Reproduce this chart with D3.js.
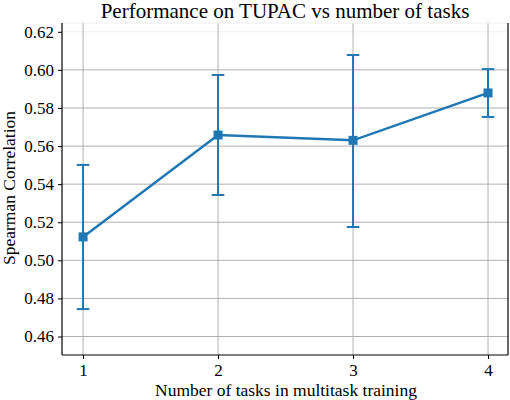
<!DOCTYPE html>
<html><head><meta charset="utf-8">
<script src="https://cdn.jsdelivr.net/npm/d3@7"></script>
<style>body{margin:0;background:#fff}svg{display:block}</style>
</head><body><svg id="c" width="510" height="400"></svg>
<script>
const tasks = [1, 2, 3, 4];
const means = [0.5123, 0.5658, 0.5630, 0.5879];
const lower = [0.4744, 0.5343, 0.5175, 0.5753];
const upper = [0.5501, 0.5973, 0.6078, 0.6004];
const yTicks = [0.46, 0.48, 0.50, 0.52, 0.54, 0.56, 0.58, 0.60, 0.62];
const xTicks = [1, 2, 3, 4];
const title = "Performance on TUPAC vs number of tasks";
const xLabel = "Number of tasks in multitask training";
const yLabel = "Spearman Correlation";

const FONT = "Liberation Serif";
const svg = d3.select("#c");
const L = 62, R = 508, T = 23, B = 355;
const x = d3.scaleLinear().domain([0.844, 4.148]).range([L, R]);
const y = d3.scaleLinear().domain([0.46, 0.62]).range([336.5, 31.8]);
const color = "#1f77b4";

// grid
svg.append("g").selectAll("line").data(yTicks).join("line")
  .attr("x1", L).attr("x2", R).attr("y1", d => y(d)).attr("y2", d => y(d))
  .attr("stroke", d => d === 0.62 ? "#f0f0f0" : "#b0b0b0").attr("stroke-width", 1);
svg.append("g").selectAll("line").data(xTicks).join("line")
  .attr("x1", d => x(d)).attr("x2", d => x(d)).attr("y1", T).attr("y2", B)
  .attr("stroke", "#b0b0b0").attr("stroke-width", 1);
svg.append("line").attr("x1", L).attr("x2", R).attr("y1", T).attr("y2", T).attr("stroke", "#eeeeee");

// axes
const yAxis = d3.axisLeft(y).tickValues(yTicks).tickFormat(d3.format(".2f")).tickSize(4).tickPadding(4);
const gy = svg.append("g").attr("transform", `translate(${L},0)`).call(yAxis);
const xAxis = d3.axisBottom(x).tickValues(xTicks).tickFormat(d3.format("d")).tickSize(4).tickPadding(5);
const gx = svg.append("g").attr("transform", `translate(0,${B})`).call(xAxis);
[gy, gx].forEach(g => {
  g.attr("font-family", FONT).attr("font-size", 17);
  g.select(".domain").remove();
  g.selectAll("line").attr("stroke", "#000").attr("stroke-width", 1);
  g.selectAll("text").attr("font-family", FONT).attr("font-size", 17).attr("fill", "#000");
});
// spines
svg.append("line").attr("x1", L).attr("x2", L).attr("y1", T).attr("y2", B).attr("stroke", "#000").attr("stroke-width", 1.2);
svg.append("line").attr("x1", L).attr("x2", R).attr("y1", B).attr("y2", B).attr("stroke", "#000").attr("stroke-width", 1.2);
svg.append("line").attr("x1", R).attr("x2", R).attr("y1", T).attr("y2", B).attr("stroke", "#000").attr("stroke-width", 1.2);

// error bars
const idx = d3.range(tasks.length);
svg.append("g").selectAll("line").data(idx).join("line")
  .attr("x1", i => x(tasks[i])).attr("x2", i => x(tasks[i]))
  .attr("y1", i => y(lower[i])).attr("y2", i => y(upper[i]))
  .attr("stroke", color).attr("stroke-width", 2);
[lower, upper].forEach(arr => {
  svg.append("g").selectAll("line").data(idx).join("line")
    .attr("x1", i => x(tasks[i]) - 6.3).attr("x2", i => x(tasks[i]) + 6.3)
    .attr("y1", i => y(arr[i])).attr("y2", i => y(arr[i]))
    .attr("stroke", color).attr("stroke-width", 2);
});
// line
svg.append("path").datum(idx)
  .attr("d", d3.line().x(i => x(tasks[i])).y(i => y(means[i])))
  .attr("fill", "none").attr("stroke", color).attr("stroke-width", 2.5);
// markers
svg.append("g").selectAll("rect").data(idx).join("rect")
  .attr("x", i => x(tasks[i]) - 4.5).attr("y", i => y(means[i]) - 4.5)
  .attr("width", 9).attr("height", 9).attr("fill", color);

// labels
svg.append("text").attr("x", 285).attr("y", 18).attr("text-anchor", "middle")
  .attr("font-family", FONT).attr("font-size", 21).text(title);
svg.append("text").attr("x", 286).attr("y", 396).attr("text-anchor", "middle")
  .attr("font-family", FONT).attr("font-size", 17.5).text(xLabel);
svg.append("text").attr("transform", "translate(15,188) rotate(-90)").attr("text-anchor", "middle")
  .attr("font-family", FONT).attr("font-size", 17.5).text(yLabel);
</script></body></html>
